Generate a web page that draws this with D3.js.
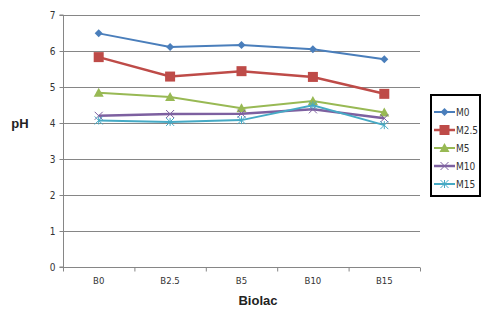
<!DOCTYPE html>
<html><head><meta charset="utf-8">
<script src="https://cdn.jsdelivr.net/npm/d3@7"></script>
<style>body{margin:0;background:#fff}svg{display:block}</style>
</head><body>
<svg id="c" width="489" height="310"></svg>
<script>
const categories = ["B0","B2.5","B5","B10","B15"];
const seriesNames = ["M0","M2.5","M5","M10","M15"];
const M0   = [6.49, 6.11, 6.17, 6.05, 5.77];
const M25  = [5.83, 5.29, 5.44, 5.28, 4.81];
const M5   = [4.84, 4.72, 4.41, 4.61, 4.29];
const M10  = [4.20, 4.25, 4.26, 4.38, 4.13];
const M15  = [4.07, 4.03, 4.08, 4.49, 3.94];
const yTicks = [0,1,2,3,4,5,6,7];
const colors = ["#4a7ebb","#be4b48","#98b954","#7d60a0","#46aac5"];
const markers = ["diamond","square","triangle","x","star"];
const seriesData = [M0, M25, M5, M10, M15];

const svg = d3.select("#c");
const L=63, R=420, T=15, B=267;
const x = d3.scaleBand().domain(categories).range([L,R]);
const y = d3.scaleLinear().domain([0,7]).range([B,T]);
const smallFont = "'Liberation Sans Narrow','DejaVu Sans Condensed',sans-serif";

// gridlines
svg.append("g").selectAll("line").data(yTicks.filter(d=>d>0)).join("line")
  .attr("x1",L).attr("x2",R).attr("y1",d=>y(d)+0.5).attr("y2",d=>y(d)+0.5)
  .attr("stroke","#868686").attr("stroke-width",1);

// y axis
const ya = svg.append("g").attr("transform",`translate(${L+0.5},0)`)
  .call(d3.axisLeft(y).tickValues(yTicks).tickSize(4).tickFormat(d3.format("d")));
ya.select(".domain").attr("stroke","#868686").attr("d",`M-4,${T}H0V${B}H-4`);
ya.selectAll(".tick line").attr("stroke","#868686");
ya.selectAll(".tick text").attr("font-family",smallFont).attr("font-size",10).attr("fill","#333").attr("x",-8);

// x axis
const xa = svg.append("g").attr("transform",`translate(0,${B+0.5})`);
xa.append("line").attr("x1",L).attr("x2",R).attr("stroke","#868686");
const bounds = categories.map(c=>x(c)).concat([R]);
xa.selectAll("line.t").data(bounds).join("line").attr("class","t")
  .attr("x1",d=>d+0.5).attr("x2",d=>d+0.5).attr("y1",0).attr("y2",4).attr("stroke","#868686");
xa.selectAll("text").data(categories).join("text")
  .attr("x",d=>x(d)+x.bandwidth()/2).attr("y",16.5).attr("text-anchor","middle")
  .attr("font-family",smallFont).attr("font-size",9.5).attr("fill","#333")
  .text(d=>d);

// axis titles
svg.append("text").attr("x",20).attr("y",128).attr("text-anchor","middle")
  .attr("font-family","'Liberation Sans',Arial,sans-serif").attr("font-weight","bold").attr("font-size",13).attr("fill","#222").text("pH");
svg.append("text").attr("x",258).attr("y",305).attr("text-anchor","middle")
  .attr("font-family","'Liberation Sans',Arial,sans-serif").attr("font-weight","bold").attr("font-size",13).attr("fill","#222").text("Biolac");

function drawMarker(g, type, cx, cy, color){
  if(type==="diamond"){
    g.append("path").attr("d",`M${cx},${cy-4}L${cx+4},${cy}L${cx},${cy+4}L${cx-4},${cy}Z`).attr("fill",color);
  } else if(type==="square"){
    g.append("rect").attr("x",cx-5).attr("y",cy-5).attr("width",10).attr("height",10).attr("fill",color);
  } else if(type==="triangle"){
    g.append("path").attr("d",`M${cx},${cy-5}L${cx+5},${cy+4}L${cx-5},${cy+4}Z`).attr("fill",color);
  } else if(type==="x"){
    g.append("path").attr("d",`M${cx-4},${cy-4}L${cx+4},${cy+4}M${cx-4},${cy+4}L${cx+4},${cy-4}`).attr("stroke",color).attr("stroke-width",1);
  } else if(type==="star"){
    g.append("path").attr("d",`M${cx-4},${cy-4}L${cx+4},${cy+4}M${cx-4},${cy+4}L${cx+4},${cy-4}M${cx},${cy-4}V${cy+4}`).attr("stroke",color).attr("stroke-width",1);
  }
}

const line = d3.line().x((d,i)=>x(categories[i])+x.bandwidth()/2).y(d=>y(d));
const widths=[2,2.5,2,2.5,2];
seriesData.forEach((vals,si)=>{
  const g = svg.append("g");
  g.append("path").datum(vals).attr("d",line).attr("fill","none")
    .attr("stroke",colors[si]).attr("stroke-width",widths[si]);
  vals.forEach((v,i)=>drawMarker(g, markers[si], x(categories[i])+x.bandwidth()/2, y(v), colors[si]));
});

// legend
const lg = svg.append("g");
lg.append("rect").attr("x",431).attr("y",95).attr("width",49).attr("height",101)
  .attr("fill","#fff").attr("stroke","#000").attr("stroke-width",2);
seriesNames.forEach((n,i)=>{
  const yy = 112 + i*18;
  lg.append("line").attr("x1",434).attr("x2",455).attr("y1",yy).attr("y2",yy).attr("stroke",colors[i]).attr("stroke-width",widths[i]);
  drawMarker(lg, markers[i], 444.5, yy, colors[i]);
  lg.append("text").attr("x",456).attr("y",yy+4).attr("font-family",smallFont)
    .attr("font-size",10).attr("fill","#333").text(n);
});
</script>
</body></html>
